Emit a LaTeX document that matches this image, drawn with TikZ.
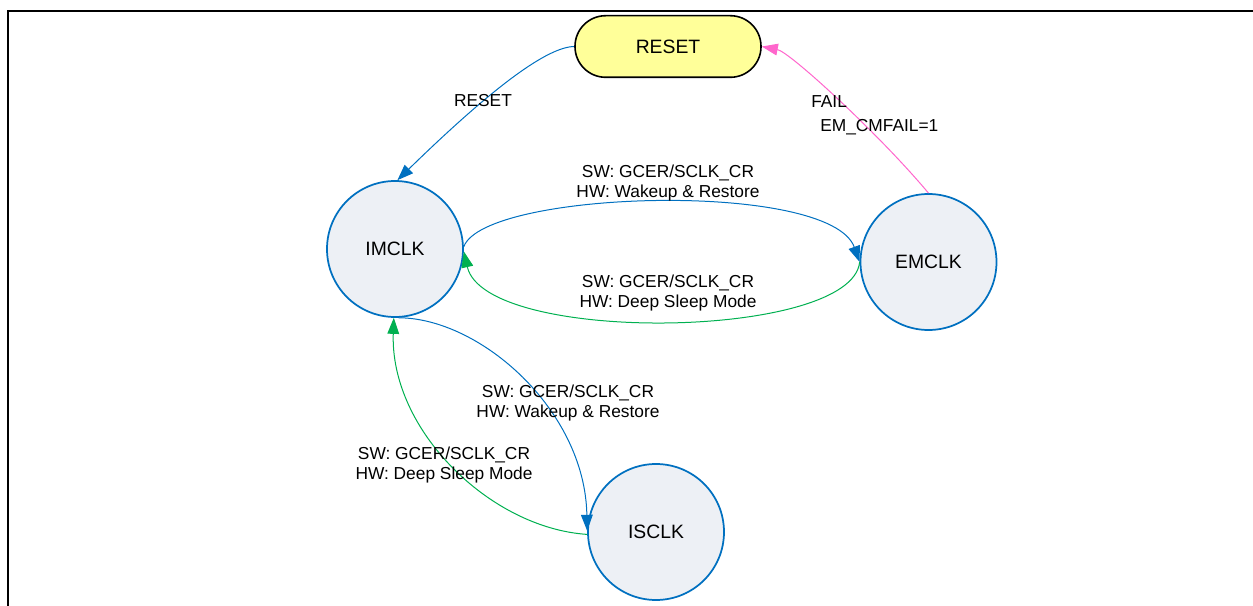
\documentclass[tikz,border=0pt]{standalone}
\usepackage{fontspec}
\setmainfont{Liberation Sans}
\usepackage{xcolor}
\usepackage{tikz}
\usetikzlibrary{arrows.meta}
\usetikzlibrary{positioning}

\definecolor{clkblue}{RGB}{0,112,192}
\definecolor{clkgreen}{RGB}{0,176,80}
\definecolor{failpink}{RGB}{255,102,204}
\definecolor{clkfill}{RGB}{237,240,245}
\definecolor{resetfill}{RGB}{255,255,153}

\begin{document}
\begin{tikzpicture}[x=0.75pt,y=0.75pt,yscale=-1,xscale=1,
  clkstate/.style={circle,draw=clkblue,fill=clkfill,line width=1.3pt,minimum size=102pt,inner sep=0pt,font=\fontsize{14.5}{17}\selectfont},
  resetstate/.style={rectangle,rounded corners=23pt,draw=black,fill=resetfill,line width=1.2pt,minimum width=139.5pt,minimum height=46.2pt,font=\fontsize{14.5}{17}\selectfont},
  trans/.style={line width=0.75pt,-{Triangle[length=12pt,width=8.8pt]}},
  translabel/.style={align=center,inner sep=0.75pt,font=\fontsize{13}{15.6}\selectfont}]
\useasboundingbox (0,0) rectangle (1253,606);

%Frame
\draw [line width=1.7pt] (8,606) -- (8,11) -- (1253,11) ;

%Shape: Rounded Rect
\node [resetstate] (reset) at (668,46.5) {RESET};
%Shape: Circle
\node [clkstate] (imclk) at (395,249) {IMCLK};
%Shape: Circle
\node [clkstate] (emclk) at (928.5,262) {EMCLK};
%Shape: Circle
\node [clkstate] (isclk) at (656,532) {ISCLK};

%Curve Lines
\draw [trans,color=clkblue] (reset.west) .. controls (548,47) and (495,85) .. (imclk.88) ;
%Curve Lines
\draw [trans,color=failpink] (emclk.north) .. controls (880,135) and (790,52) .. (reset.east) ;
%Curve Lines
\draw [trans,color=clkblue] (imclk.2) .. controls (485,190) and (830,180) .. (emclk.west) ;
%Curve Lines
\draw [trans,color=clkgreen] (emclk.west) .. controls (852,340) and (485,345) .. (imclk.-2) ;
%Curve Lines
\draw [trans,color=clkblue] (imclk.-87) .. controls (480,318) and (585,410) .. (isclk.179) ;
%Curve Lines
\draw [trans,color=clkgreen] (isclk.182) .. controls (490,528) and (390,430) .. (imclk.-91) ;

% Text Node
\node [translabel] (lblreset) at (483,101) {RESET};
% Text Node
\node [translabel,align=left,anchor=north west] (lblfail) at (810,94.5) {FAIL\\[2pt]\hspace*{6.75pt}EM\_CMFAIL=1};
% Text Node
\node [translabel] (lblwake) at (668,183) {SW: GCER/SCLK\_CR\\HW: Wakeup \& Restore};
% Text Node
\node [translabel] (lblsleep) at (668,293) {SW: GCER/SCLK\_CR\\HW: Deep Sleep Mode};
% Text Node
\node [translabel] (lbliswake) at (568,403) {SW: GCER/SCLK\_CR\\HW: Wakeup \& Restore};
% Text Node
\node [translabel] (lblissleep) at (444,465) {SW: GCER/SCLK\_CR\\HW: Deep Sleep Mode};

\end{tikzpicture}
\end{document}
